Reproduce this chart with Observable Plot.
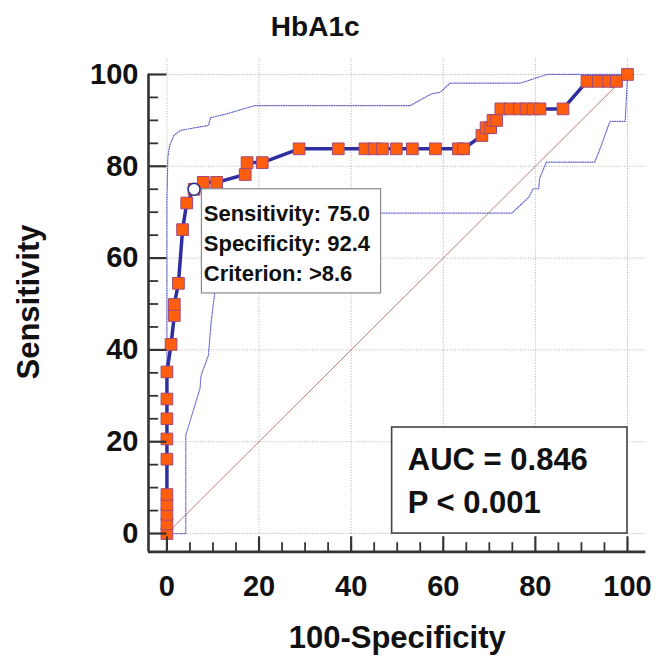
<!DOCTYPE html>
<html>
<head>
<meta charset="utf-8">
<script src="https://cdn.jsdelivr.net/npm/d3@7"></script>
<script src="https://cdn.jsdelivr.net/npm/@observablehq/plot@0.6"></script>
<style>
  html, body { margin: 0; padding: 0; background: #fff; }
</style>
</head>
<body>
<div id="chart"></div>
<script>
// ---- Data ----
const title = "HbA1c";
const xLabel = "100-Specificity";
const yLabel = "Sensitivity";
const majorTicks = [0, 20, 40, 60, 80, 100];
const minorTicks = [5, 10, 15, 25, 30, 35, 45, 50, 55, 65, 70, 75, 85, 90, 95];

// ROC curve points (100-Specificity, Sensitivity)
const rocX = [0, 0, 0, 0, 0, 0, 0, 0, 0, 0, 0.9, 1.6, 1.6, 2.5, 3.4, 4.3, 5.9, 7.9, 10.8, 17.0, 17.4, 20.7,
  28.7, 37.2, 43.0, 45.0, 46.8, 49.8, 53.3, 58.3, 63.3, 64.4, 68.4, 69.3, 70.3, 70.8, 71.6,
  72.5, 74.5, 76.5, 78.0, 79.5, 81.0, 86.0, 91.2, 93.7, 95.9, 97.6, 100];
const rocY = [0, 2.1, 4.2, 6.3, 8.5, 16.2, 20.6, 25.0, 29.3, 35.2, 41.2, 47.5, 49.9, 54.5, 66.2, 72.0, 75.0, 76.5, 76.5, 78.2, 80.8, 80.8,
  83.8, 83.8, 83.8, 83.8, 83.8, 83.8, 83.8, 83.8, 83.8, 83.8, 86.7, 88.4, 88.4, 90.0, 90.0,
  92.5, 92.5, 92.5, 92.5, 92.5, 92.5, 92.5, 98.5, 98.5, 98.5, 98.5, 100];

// Confidence band (upper)
const upperX = [0, 0, 0.2, 0.6, 1.5, 2.9, 5.0, 9.0, 9.5, 12.9, 19.0, 52.8, 57.5, 59.3, 61.5, 76.7, 82.5, 100];
const upperY = [0, 72.5, 82.0, 84.5, 86.7, 87.8, 88.2, 88.9, 90.6, 91.4, 93.2, 93.2, 95.8, 96.1, 98.1, 98.1, 100, 100];
// Confidence band (lower)
const lowerX = [0, 4.1, 4.1, 7.2, 7.4, 9.0, 9.6, 10.4, 11.5, 13.5, 74.9, 78.6, 79.5, 80.7, 80.9, 81.8, 82.4, 92.9, 94.3, 95.9, 96.3, 99.5, 100, 100];
const lowerY = [0, 0, 21.4, 31.7, 34.4, 38.8, 46.0, 52.6, 60.0, 69.8, 69.8, 73.3, 75.1, 75.1, 77.3, 79.5, 80.9, 80.9, 84.5, 89.0, 89.8, 89.8, 99.5, 100];

// Statistics
const criterion = ">8.6";
const sensitivity = 75.0;
const specificity = 92.4;
const auc = 0.846;
const pText = "P < 0.001";

// ---- Build tables ----
const roc = rocX.map((x, i) => ({x, y: rocY[i]}));
const upper = upperX.map((x, i) => ({x, y: upperY[i]}));
const lower = lowerX.map((x, i) => ({x, y: lowerY[i]}));
const critPoint = [{x: roc[16].x, y: sensitivity}];
const boxX1 = 100 - specificity;
const infoLines = [
  `Sensitivity: ${sensitivity.toFixed(1)}`,
  `Specificity: ${specificity.toFixed(1)}`,
  `Criterion: ${criterion}`
];
const aucLines = [`AUC = ${auc.toFixed(3)}`, pText];

const font = "'Liberation Sans', Arial, Helvetica, sans-serif";
const gridStyle = {stroke: "#b0b0b0", strokeWidth: 1, strokeDasharray: "1,1.6"};
const bandStyle = {stroke: "#6464cc", strokeWidth: 1.2, strokeDasharray: "1,1.4"};
const axisMin = -4;

const chart = Plot.plot({
  width: 656,
  height: 658,
  marginLeft: 148,
  marginRight: 10.6,
  marginTop: 55.6,
  marginBottom: 106.6,
  style: {fontFamily: font, background: "#fff", color: "#111"},
  x: {domain: [-4, 104], label: null},
  y: {domain: [-4, 104], label: null},
  marks: [
    // grid
    Plot.ruleX(majorTicks, {x: d => d, y1: 0, y2: 103.7, ...gridStyle}),
    Plot.ruleY(majorTicks, {y: d => d, x1: 0, x2: 104, ...gridStyle}),
    // diagonal reference
    Plot.line([{x: 0, y: 0}, {x: 100, y: 100}], {x: "x", y: "y", stroke: "#c07a7a", strokeWidth: 1}),
    // confidence bands
    Plot.line(upper, {x: "x", y: "y", ...bandStyle}),
    Plot.line(lower, {x: "x", y: "y", ...bandStyle}),
    // ROC curve
    Plot.line(roc, {x: "x", y: "y", stroke: "#2e2ea0", strokeWidth: 3.5}),
    Plot.dot(roc, {x: "x", y: "y", symbol: "square", r: 6.6, fill: "#ff5e0e", stroke: "#a24a78", strokeWidth: 1}),
    Plot.dot(critPoint, {x: "x", y: "y", r: 6, fill: "#fff", stroke: "#2e2e90", strokeWidth: 1.6}),
    // criterion info box
    Plot.rect([0], {x1: boxX1, x2: boxX1 + 38.9, y1: sensitivity - 22.7, y2: sensitivity, fill: "#fff", stroke: "#8a8a8a", strokeWidth: 1.2}),
    Plot.text(infoLines, {x: boxX1 + 0.4, y: (d, i) => sensitivity - 5.3 - i * 6.6, text: d => d, textAnchor: "start", fontSize: 22, fontWeight: "bold", fill: "#111"}),
    // AUC box
    Plot.rect([0], {x1: 48.9, x2: 100, y1: 0, y2: 23.1, fill: "#fff", stroke: "#444", strokeWidth: 1.6}),
    Plot.text(aucLines, {x: 52.3, y: (d, i) => 15.9 - i * 9.2, text: d => d, textAnchor: "start", fontSize: 31, fontWeight: "bold", fill: "#111"}),
    // axes lines
    Plot.ruleY([axisMin], {x1: axisMin, x2: 104, stroke: "#333", strokeWidth: 2.6}),
    Plot.ruleX([axisMin], {y1: axisMin, y2: 100, stroke: "#333", strokeWidth: 2.6}),
    // inward ticks
    Plot.ruleX(majorTicks, {x: d => d, y1: axisMin, y2: axisMin + 3.3, stroke: "#333", strokeWidth: 2.2}),
    Plot.ruleX(minorTicks, {x: d => d, y1: axisMin, y2: axisMin + 2.0, stroke: "#333", strokeWidth: 1.8}),
    Plot.ruleY(majorTicks, {y: d => d, x1: axisMin, x2: axisMin + 4.0, stroke: "#333", strokeWidth: 2.2}),
    Plot.ruleY(minorTicks, {y: d => d, x1: axisMin, x2: axisMin + 2.2, stroke: "#333", strokeWidth: 1.8}),
    // tick labels
    Plot.axisX({ticks: majorTicks, tickSize: 0, tickPadding: 24, fontSize: 29, fontWeight: "bold", fill: "#111", label: null}),
    Plot.axisY({ticks: majorTicks, tickSize: 0, tickPadding: 10, fontSize: 29, fontWeight: "bold", fill: "#111", label: null}),
    // titles
    Plot.text([title], {frameAnchor: "top", lineAnchor: "middle", textAnchor: "middle", dx: -82, dy: -28.6, fontSize: 28, fontWeight: "bold", fill: "#111"}),
    Plot.text([xLabel], {frameAnchor: "bottom", lineAnchor: "middle", textAnchor: "middle", dy: 86, fontSize: 31, fontWeight: "bold", fill: "#111"}),
    Plot.text([yLabel], {frameAnchor: "left", lineAnchor: "middle", textAnchor: "middle", dx: -119, dy: -2, rotate: -90, fontSize: 31, fontWeight: "bold", fill: "#111"})
  ]
});
document.getElementById("chart").appendChild(chart);
</script>
</body>
</html>
